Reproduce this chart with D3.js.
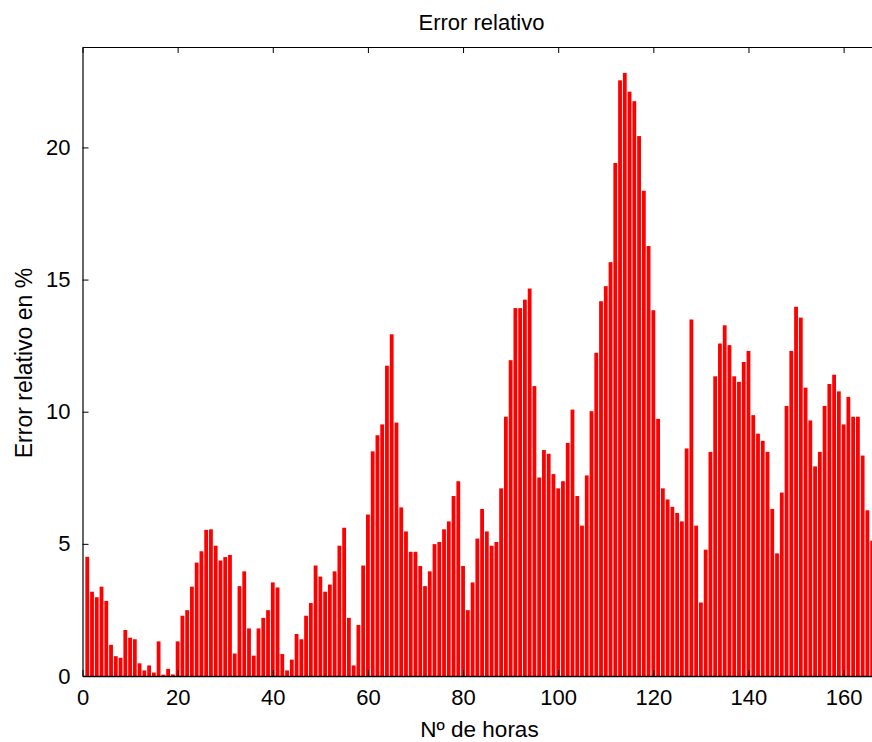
<!DOCTYPE html>
<html>
<head>
<meta charset="utf-8">
<script src="https://cdn.jsdelivr.net/npm/d3@7"></script>
<style>
  html, body { margin: 0; padding: 0; background: #fff; }
  svg { display: block; }
  text { font-family: "Liberation Sans", Arial, Helvetica, sans-serif; fill: #000; }
</style>
</head>
<body>
<svg id="chart" width="872" height="742"></svg>
<script>
// ---- data ----
const title = "Error relativo";
const xLabel = "Nº de horas";
const yLabel = "Error relativo en %";
const xTicks = [0, 20, 40, 60, 80, 100, 120, 140, 160];
const yTicks = [0, 5, 10, 15, 20];
const hours = d3.range(1, 167);
const errorValues = [
  4.51, 3.19, 2.98, 3.38, 2.84, 1.18, 0.75, 0.69, 1.74, 1.45,
  1.39, 0.48, 0.21, 0.40, 0.13, 1.31, 0.05, 0.27, 0.06, 1.31,
  2.28, 2.49, 3.38, 4.29, 4.72, 5.53, 5.55, 4.93, 4.37, 4.50,
  4.58, 0.85, 3.40, 3.96, 1.80, 0.77, 1.80, 2.20, 2.49, 3.54,
  3.35, 0.83, 0.21, 0.62, 1.59, 1.39, 2.28, 2.76, 4.18, 3.76,
  3.19, 3.46, 3.96, 4.93, 5.61, 2.20, 0.40, 1.93, 4.18, 6.11,
  8.50, 9.11, 9.52, 11.74, 12.93, 9.59, 6.38, 5.47, 4.70, 4.70,
  4.16, 3.40, 3.96, 4.99, 5.07, 5.55, 5.85, 6.81, 7.37, 4.16,
  2.49, 3.54, 5.20, 6.32, 5.47, 4.93, 5.07, 7.10, 9.81, 11.95,
  13.92, 13.92, 14.24, 14.66, 10.97, 7.51, 8.55, 8.41, 7.64, 7.10,
  7.37, 8.82, 10.08, 6.81, 5.69, 7.59, 10.02, 12.23, 14.18, 14.75,
  15.66, 19.41, 22.54, 22.82, 22.11, 21.75, 20.43, 18.36, 16.27, 13.84,
  9.73, 7.10, 6.68, 6.40, 6.17, 5.85, 8.61, 13.49, 5.69, 2.78,
  4.78, 8.48, 11.34, 12.58, 13.27, 12.52, 11.34, 11.13, 11.88, 12.30,
  9.87, 9.17, 8.90, 8.48, 6.32, 4.64, 6.94, 10.22, 12.30, 13.97,
  13.56, 10.91, 9.67, 7.93, 8.48, 10.22, 11.05, 11.40, 10.77, 9.52,
  10.56, 9.81, 9.81, 8.34, 6.27, 5.12
];
const xDomain = [0, 167];
const yDomain = [0, 23.8];

// ---- layout ----
const svg = d3.select("#chart");
const mLeft = 82.5, mTop = 47, mBottom = 676;
const pxPerUnit = 4.757;
const mRight = mLeft + (xDomain[1] - xDomain[0]) * pxPerUnit;

const x = d3.scaleLinear().domain(xDomain).range([mLeft, mRight]);
const y = d3.scaleLinear().domain(yDomain).range([mBottom, mTop]);
const barW = 0.8 * pxPerUnit;

// bars
svg.append("g")
  .selectAll("rect")
  .data(hours.map((h, i) => ({ h, v: errorValues[i] })))
  .join("rect")
  .attr("x", d => x(d.h) - barW / 2)
  .attr("width", barW)
  .attr("y", d => y(d.v))
  .attr("height", d => y(0) - y(d.v))
  .attr("fill", "#ff0000");

// axes
const tickLen = 6;
const fs = 22;

// bottom axis
const xb = svg.append("g").attr("transform", `translate(0,${mBottom})`)
  .call(d3.axisBottom(x).tickValues(xTicks).tickSizeInner(-tickLen).tickSizeOuter(0).tickPadding(13));
xb.select(".domain").attr("stroke", "#000").attr("stroke-width", 1.6);
xb.selectAll(".tick line").attr("stroke", "#000");
xb.selectAll(".tick text").attr("font-size", fs).attr("font-family", "Liberation Sans, Arial, sans-serif");

// top axis
const xt = svg.append("g").attr("transform", `translate(0,${mTop})`)
  .call(d3.axisTop(x).tickValues(xTicks).tickSizeInner(-tickLen).tickSizeOuter(0).tickFormat(""));
xt.select(".domain").attr("stroke", "#000").attr("stroke-width", 1.2);
xt.selectAll(".tick line").attr("stroke", "#000");

// left axis
const yl = svg.append("g").attr("transform", `translate(${mLeft},0)`)
  .call(d3.axisLeft(y).tickValues(yTicks).tickSizeInner(-tickLen).tickSizeOuter(0).tickPadding(12));
yl.select(".domain").attr("stroke", "#000").attr("stroke-width", 1.2);
yl.selectAll(".tick line").attr("stroke", "#000");
yl.selectAll(".tick text").attr("font-size", fs).attr("font-family", "Liberation Sans, Arial, sans-serif");

// title
svg.append("text")
  .attr("x", 481.5).attr("y", 29.5)
  .attr("text-anchor", "middle")
  .attr("font-size", 22)
  .text(title);

// x label
svg.append("text")
  .attr("x", 479.5).attr("y", 737)
  .attr("text-anchor", "middle")
  .attr("font-size", 22.5)
  .text(xLabel);

// y label
svg.append("text")
  .attr("transform", "translate(32,363) rotate(-90)")
  .attr("text-anchor", "middle")
  .attr("font-size", 23)
  .text(yLabel);
</script>
</body>
</html>
